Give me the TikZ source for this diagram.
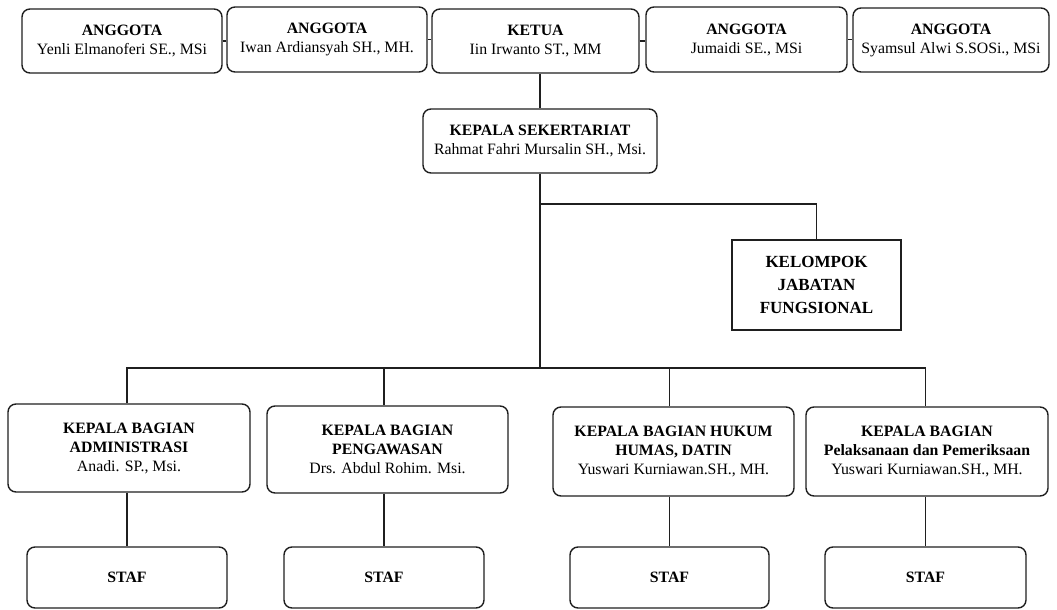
\documentclass[tikz,border=0pt]{standalone}
\usepackage{fontspec}
\setmainfont{Liberation Serif}
\begin{document}
\begin{tikzpicture}[x=1pt,y=-1pt,
  box/.style={draw=black!88, line width=1.4pt, rounded corners=8pt, align=center, inner sep=0pt,
    font=\fontsize{15.8}{19}\selectfont},
  sqbox/.style={draw=black!88, line width=1.4pt, align=center, inner sep=0pt,
    font=\fontsize{17}{23}\selectfont\bfseries},
  link/.style={draw=black!88, line width=1.4pt}]
\useasboundingbox (0,0) rectangle (1057,610);
% top row
\node[box, minimum width=200pt, minimum height=64pt] (a1) at (122,41) {{\bfseries ANGGOTA}\\Yenli Elmanoferi SE., MSi};
\node[box, minimum width=200pt, minimum height=65pt] (a2) at (327,39.5) {{\bfseries ANGGOTA}\\Iwan Ardiansyah SH., MH.};
\node[box, minimum width=207pt, minimum height=64pt] (ketua) at (535.5,41) {{\bfseries KETUA}\\Iin Irwanto ST., MM};
\node[box, minimum width=201pt, minimum height=65pt] (a4) at (746.5,39.5) {{\bfseries ANGGOTA}\\Jumaidi SE., MSi};
\node[box, minimum width=196pt, minimum height=64pt] (a5) at (951,40) {{\bfseries ANGGOTA}\\Syamsul Alwi S.SOSi., MSi};
% secretariat
\node[box, minimum width=234pt, minimum height=64pt] (sek) at (540,141) {{\bfseries KEPALA SEKERTARIAT}\\Rahmat Fahri Mursalin SH., Msi.};
\node[sqbox, minimum width=169pt, minimum height=90pt] (kel) at (816.5,285) {KELOMPOK\\JABATAN\\FUNGSIONAL};
% departments
\node[box, minimum width=242pt, minimum height=88pt] (bA) at (129,448) {{\bfseries KEPALA BAGIAN}\\{\bfseries ADMINISTRASI}\\Anadi. SP., Msi.};
\node[box, minimum width=241pt, minimum height=87pt] (bB) at (387.5,449.5) {{\bfseries KEPALA BAGIAN}\\{\bfseries PENGAWASAN}\\Drs. Abdul Rohim. Msi.};
\node[box, minimum width=241pt, minimum height=89pt] (bC) at (673.5,451.5) {{\bfseries KEPALA BAGIAN HUKUM}\\{\bfseries HUMAS, DATIN}\\Yuswari Kurniawan.SH., MH.};
\node[box, minimum width=242pt, minimum height=89pt] (bD) at (927,451.5) {{\bfseries KEPALA BAGIAN}\\{\bfseries Pelaksanaan dan Pemeriksaan}\\Yuswari Kurniawan.SH., MH.};
% staff
\node[box, minimum width=200pt, minimum height=61pt] (sA) at (127,577.5) {\bfseries STAF};
\node[box, minimum width=200pt, minimum height=61pt] (sB) at (384,577.5) {\bfseries STAF};
\node[box, minimum width=199pt, minimum height=61pt] (sC) at (669.5,577.5) {\bfseries STAF};
\node[box, minimum width=201pt, minimum height=61pt] (sD) at (925.5,577.5) {\bfseries STAF};
% connectors
\draw[link] (a1.east) -- (a1.east -| a2.west);
\draw[link] (a2.east) -- (a2.east -| ketua.west);
\draw[link] (ketua.east) -- (ketua.east -| a4.west);
\draw[link] (a4.east) -- (a4.east -| a5.west);
\draw[link] (sek.north) -- (sek.north |- ketua.south);
\coordinate (br) at (540,204);
\coordinate (bar) at (540,368);
\draw[link] (sek.south) -- (bar);
\draw[link] (br) -- (br -| kel.north) -- (kel.north);
\draw[link] (bA.north -| sA.north) -- (sA.north |- bar) -- (sD.north |- bar) -- (bD.north -| sD.north);
\draw[link] (bB.north -| sB.north) -- (sB.north |- bar);
\draw[link] (bC.north -| sC.north) -- (sC.north |- bar);
\draw[link] (bA.south -| sA.north) -- (sA.north);
\draw[link] (bB.south -| sB.north) -- (sB.north);
\draw[link] (bC.south -| sC.north) -- (sC.north);
\draw[link] (bD.south -| sD.north) -- (sD.north);
\end{tikzpicture}
\end{document}
